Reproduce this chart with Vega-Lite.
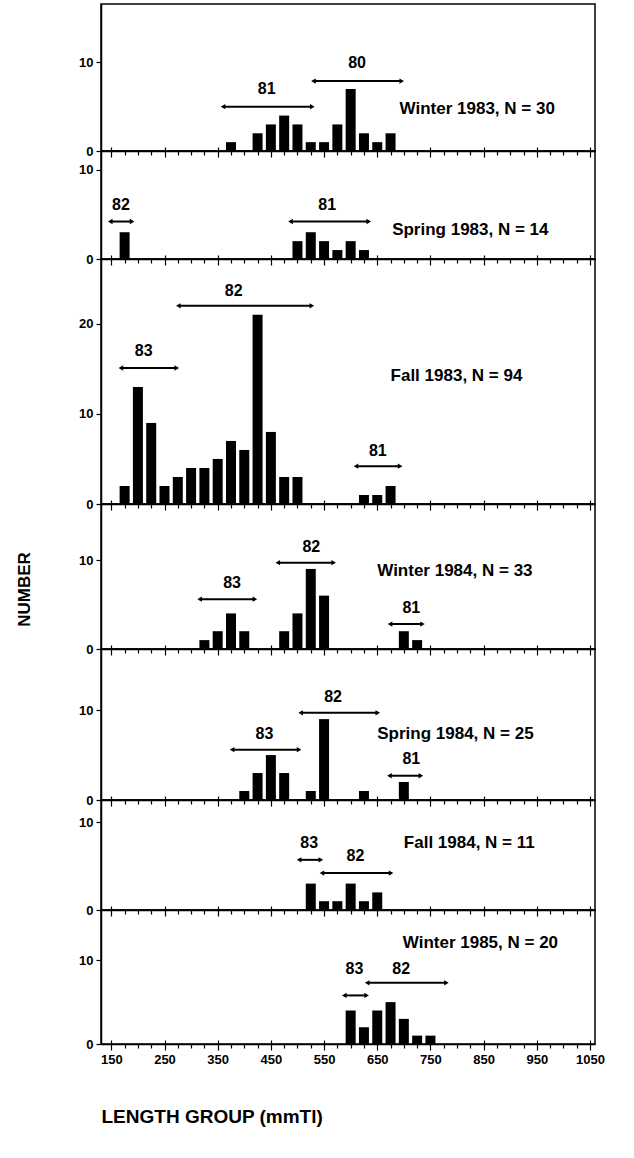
{
  "$schema": "https://vega.github.io/schema/vega-lite/v6.json",
  "padding": {"left": 14, "top": 3, "right": 10, "bottom": 5},
  "background": "white",
  "datasets": {
    "bars": [
      {"p": 1, "len": 375, "n": 1}, {"p": 1, "len": 425, "n": 2}, {"p": 1, "len": 450, "n": 3}, {"p": 1, "len": 475, "n": 4},
      {"p": 1, "len": 500, "n": 3}, {"p": 1, "len": 525, "n": 1}, {"p": 1, "len": 550, "n": 1}, {"p": 1, "len": 575, "n": 3},
      {"p": 1, "len": 600, "n": 7}, {"p": 1, "len": 625, "n": 2}, {"p": 1, "len": 650, "n": 1}, {"p": 1, "len": 675, "n": 2},
      {"p": 2, "len": 175, "n": 3}, {"p": 2, "len": 500, "n": 2}, {"p": 2, "len": 525, "n": 3}, {"p": 2, "len": 550, "n": 2},
      {"p": 2, "len": 575, "n": 1}, {"p": 2, "len": 600, "n": 2}, {"p": 2, "len": 625, "n": 1},
      {"p": 3, "len": 175, "n": 2}, {"p": 3, "len": 200, "n": 13}, {"p": 3, "len": 225, "n": 9}, {"p": 3, "len": 250, "n": 2},
      {"p": 3, "len": 275, "n": 3}, {"p": 3, "len": 300, "n": 4}, {"p": 3, "len": 325, "n": 4}, {"p": 3, "len": 350, "n": 5},
      {"p": 3, "len": 375, "n": 7}, {"p": 3, "len": 400, "n": 6}, {"p": 3, "len": 425, "n": 21}, {"p": 3, "len": 450, "n": 8},
      {"p": 3, "len": 475, "n": 3}, {"p": 3, "len": 500, "n": 3}, {"p": 3, "len": 625, "n": 1}, {"p": 3, "len": 650, "n": 1},
      {"p": 3, "len": 675, "n": 2},
      {"p": 4, "len": 325, "n": 1}, {"p": 4, "len": 350, "n": 2}, {"p": 4, "len": 375, "n": 4}, {"p": 4, "len": 400, "n": 2},
      {"p": 4, "len": 475, "n": 2}, {"p": 4, "len": 500, "n": 4}, {"p": 4, "len": 525, "n": 9}, {"p": 4, "len": 550, "n": 6},
      {"p": 4, "len": 700, "n": 2}, {"p": 4, "len": 725, "n": 1},
      {"p": 5, "len": 400, "n": 1}, {"p": 5, "len": 425, "n": 3}, {"p": 5, "len": 450, "n": 5}, {"p": 5, "len": 475, "n": 3},
      {"p": 5, "len": 525, "n": 1}, {"p": 5, "len": 550, "n": 9}, {"p": 5, "len": 625, "n": 1}, {"p": 5, "len": 700, "n": 2},
      {"p": 6, "len": 525, "n": 3}, {"p": 6, "len": 550, "n": 1}, {"p": 6, "len": 575, "n": 1}, {"p": 6, "len": 600, "n": 3},
      {"p": 6, "len": 625, "n": 1}, {"p": 6, "len": 650, "n": 2},
      {"p": 7, "len": 600, "n": 4}, {"p": 7, "len": 625, "n": 2}, {"p": 7, "len": 650, "n": 4}, {"p": 7, "len": 675, "n": 5},
      {"p": 7, "len": 700, "n": 3}, {"p": 7, "len": 725, "n": 1}, {"p": 7, "len": 750, "n": 1}
    ],
    "arrows": [
      {"p": 1, "x1": 360, "x2": 528, "y": 5.0, "lab": "81", "lx": 442, "ly": 7.0},
      {"p": 1, "x1": 530, "x2": 696, "y": 7.9, "lab": "80", "lx": 612, "ly": 9.9},
      {"p": 2, "x1": 148, "x2": 189, "y": 4.2, "lab": "82", "lx": 168, "ly": 6.0},
      {"p": 2, "x1": 487, "x2": 634, "y": 4.2, "lab": "81", "lx": 556, "ly": 6.0},
      {"p": 3, "x1": 168, "x2": 273, "y": 15.1, "lab": "83", "lx": 211, "ly": 17.0},
      {"p": 3, "x1": 276, "x2": 527, "y": 22.0, "lab": "82", "lx": 380, "ly": 23.7},
      {"p": 3, "x1": 610, "x2": 693, "y": 4.2, "lab": "81", "lx": 651, "ly": 5.9},
      {"p": 4, "x1": 316, "x2": 420, "y": 5.6, "lab": "83", "lx": 377, "ly": 7.4},
      {"p": 4, "x1": 463, "x2": 568, "y": 9.7, "lab": "82", "lx": 526, "ly": 11.5},
      {"p": 4, "x1": 674, "x2": 735, "y": 2.8, "lab": "81", "lx": 714, "ly": 4.6},
      {"p": 5, "x1": 377, "x2": 503, "y": 5.6, "lab": "83", "lx": 438, "ly": 7.3},
      {"p": 5, "x1": 506, "x2": 651, "y": 9.7, "lab": "82", "lx": 567, "ly": 11.5},
      {"p": 5, "x1": 673, "x2": 732, "y": 2.7, "lab": "81", "lx": 714, "ly": 4.6},
      {"p": 6, "x1": 503, "x2": 544, "y": 5.7, "lab": "83", "lx": 522, "ly": 7.6},
      {"p": 6, "x1": 546, "x2": 676, "y": 4.2, "lab": "82", "lx": 609, "ly": 6.1},
      {"p": 7, "x1": 588, "x2": 630, "y": 5.8, "lab": "83", "lx": 607, "ly": 9.0},
      {"p": 7, "x1": 631, "x2": 780, "y": 7.3, "lab": "82", "lx": 695, "ly": 9.0}
    ],
    "notes": [
      {"p": 1, "txt": "Winter 1983, N = 30", "x": 692, "y": 4.75},
      {"p": 2, "txt": "Spring 1983, N = 14", "x": 678, "y": 3.2},
      {"p": 3, "txt": "Fall 1983, N = 94", "x": 675, "y": 14.2},
      {"p": 4, "txt": "Winter 1984, N = 33", "x": 650, "y": 8.8},
      {"p": 5, "txt": "Spring 1984, N = 25", "x": 650, "y": 7.3},
      {"p": 6, "txt": "Fall 1984, N = 11", "x": 700, "y": 7.6},
      {"p": 7, "txt": "Winter 1985, N = 20", "x": 698, "y": 12.1}
    ]
  },
  "vconcat": [
    {
      "width": 494, "height": 147,
      "layer": [
        {"data": {"name": "bars"}, "transform": [{"filter": "datum.p == 1"}], "mark": {"type": "bar", "size": 10, "color": "black"},
         "encoding": {"x": {"field": "len", "type": "quantitative", "scale": {"domain": [140, 1050], "nice": false, "zero": false}, "axis": {"orient": "bottom", "values": [150,175,200,225,250,275,300,325,350,375,400,425,450,475,500,525,550,575,600,625,650,675,700,725,750,775,800,825,850,875,900,925,950,975,1000,1025,1050], "tickSize": {"expr": "datum.value % 100 == 50 ? 6 : 4"}, "labels": false, "title": null}},
                      "y": {"field": "n", "type": "quantitative", "scale": {"domain": [0, 16.6], "nice": false}, "axis": {"orient": "left", "values": [0, 10], "title": null}}}},
        {"data": {"name": "arrows"}, "transform": [{"filter": "datum.p == 1"}], "mark": {"type": "rule", "strokeWidth": 2, "color": "black"},
         "encoding": {"x": {"field": "x1", "type": "quantitative", "scale": {"domain": [140, 1050], "nice": false, "zero": false}, "axis": {"orient": "bottom", "values": [150,250,350,450,550,650,750,850,950,1050], "tickSize": -4, "labels": false, "domain": false, "title": null}},
                      "x2": {"field": "x2"}, "y": {"field": "y", "type": "quantitative", "scale": {"domain": [0, 16.6], "nice": false}, "axis": null}}},
        {"data": {"name": "arrows"}, "transform": [{"filter": "datum.p == 1"}], "mark": {"type": "point", "shape": "triangle-left", "filled": true, "size": 28, "color": "black", "opacity": 1},
         "encoding": {"x": {"field": "x1", "type": "quantitative", "axis": null}, "y": {"field": "y", "type": "quantitative", "axis": null}}},
        {"data": {"name": "arrows"}, "transform": [{"filter": "datum.p == 1"}], "mark": {"type": "point", "shape": "triangle-right", "filled": true, "size": 28, "color": "black", "opacity": 1},
         "encoding": {"x": {"field": "x2", "type": "quantitative", "axis": null}, "y": {"field": "y", "type": "quantitative", "axis": null}}},
        {"data": {"name": "arrows"}, "transform": [{"filter": "datum.p == 1"}], "mark": {"type": "text", "fontSize": 16, "fontWeight": "bold", "baseline": "middle"},
         "encoding": {"x": {"field": "lx", "type": "quantitative", "axis": null}, "y": {"field": "ly", "type": "quantitative", "axis": null}, "text": {"field": "lab"}}},
        {"data": {"name": "notes"}, "transform": [{"filter": "datum.p == 1"}], "mark": {"type": "text", "fontSize": 17, "fontWeight": "bold", "align": "left", "baseline": "middle"},
         "encoding": {"x": {"field": "x", "type": "quantitative", "axis": null}, "y": {"field": "y", "type": "quantitative", "axis": null}, "text": {"field": "txt"}}}
      ],
      "resolve": {"axis": {"x": "independent", "y": "independent"}}
    },
    {
      "width": 494, "height": 108,
      "layer": [
        {"data": {"name": "bars"}, "transform": [{"filter": "datum.p == 2"}], "mark": {"type": "bar", "size": 10, "color": "black"},
         "encoding": {"x": {"field": "len", "type": "quantitative", "scale": {"domain": [140, 1050], "nice": false, "zero": false}, "axis": {"orient": "bottom", "values": [150,175,200,225,250,275,300,325,350,375,400,425,450,475,500,525,550,575,600,625,650,675,700,725,750,775,800,825,850,875,900,925,950,975,1000,1025,1050], "tickSize": {"expr": "datum.value % 100 == 50 ? 6 : 4"}, "labels": false, "title": null}},
                      "y": {"field": "n", "type": "quantitative", "scale": {"domain": [0, 12.1], "nice": false}, "axis": {"orient": "left", "values": [0, 10], "title": null}}}},
        {"data": {"name": "arrows"}, "transform": [{"filter": "datum.p == 2"}], "mark": {"type": "rule", "strokeWidth": 2, "color": "black"},
         "encoding": {"x": {"field": "x1", "type": "quantitative", "scale": {"domain": [140, 1050], "nice": false, "zero": false}, "axis": {"orient": "bottom", "values": [150,250,350,450,550,650,750,850,950,1050], "tickSize": -4, "labels": false, "domain": false, "title": null}},
                      "x2": {"field": "x2"}, "y": {"field": "y", "type": "quantitative", "scale": {"domain": [0, 12.1], "nice": false}, "axis": null}}},
        {"data": {"name": "arrows"}, "transform": [{"filter": "datum.p == 2"}], "mark": {"type": "point", "shape": "triangle-left", "filled": true, "size": 28, "color": "black", "opacity": 1},
         "encoding": {"x": {"field": "x1", "type": "quantitative", "axis": null}, "y": {"field": "y", "type": "quantitative", "axis": null}}},
        {"data": {"name": "arrows"}, "transform": [{"filter": "datum.p == 2"}], "mark": {"type": "point", "shape": "triangle-right", "filled": true, "size": 28, "color": "black", "opacity": 1},
         "encoding": {"x": {"field": "x2", "type": "quantitative", "axis": null}, "y": {"field": "y", "type": "quantitative", "axis": null}}},
        {"data": {"name": "arrows"}, "transform": [{"filter": "datum.p == 2"}], "mark": {"type": "text", "fontSize": 16, "fontWeight": "bold", "baseline": "middle"},
         "encoding": {"x": {"field": "lx", "type": "quantitative", "axis": null}, "y": {"field": "ly", "type": "quantitative", "axis": null}, "text": {"field": "lab"}}},
        {"data": {"name": "notes"}, "transform": [{"filter": "datum.p == 2"}], "mark": {"type": "text", "fontSize": 17, "fontWeight": "bold", "align": "left", "baseline": "middle"},
         "encoding": {"x": {"field": "x", "type": "quantitative", "axis": null}, "y": {"field": "y", "type": "quantitative", "axis": null}, "text": {"field": "txt"}}}
      ],
      "resolve": {"axis": {"x": "independent", "y": "independent"}}
    },
    {
      "width": 494, "height": 245,
      "layer": [
        {"data": {"name": "bars"}, "transform": [{"filter": "datum.p == 3"}], "mark": {"type": "bar", "size": 10, "color": "black"},
         "encoding": {"x": {"field": "len", "type": "quantitative", "scale": {"domain": [140, 1050], "nice": false, "zero": false}, "axis": {"orient": "bottom", "values": [150,175,200,225,250,275,300,325,350,375,400,425,450,475,500,525,550,575,600,625,650,675,700,725,750,775,800,825,850,875,900,925,950,975,1000,1025,1050], "tickSize": {"expr": "datum.value % 100 == 50 ? 6 : 4"}, "labels": false, "title": null}},
                      "y": {"field": "n", "type": "quantitative", "scale": {"domain": [0, 27.2], "nice": false}, "axis": {"orient": "left", "values": [0, 10, 20], "title": null}}}},
        {"data": {"name": "arrows"}, "transform": [{"filter": "datum.p == 3"}], "mark": {"type": "rule", "strokeWidth": 2, "color": "black"},
         "encoding": {"x": {"field": "x1", "type": "quantitative", "scale": {"domain": [140, 1050], "nice": false, "zero": false}, "axis": {"orient": "bottom", "values": [150,250,350,450,550,650,750,850,950,1050], "tickSize": -4, "labels": false, "domain": false, "title": null}},
                      "x2": {"field": "x2"}, "y": {"field": "y", "type": "quantitative", "scale": {"domain": [0, 27.2], "nice": false}, "axis": null}}},
        {"data": {"name": "arrows"}, "transform": [{"filter": "datum.p == 3"}], "mark": {"type": "point", "shape": "triangle-left", "filled": true, "size": 28, "color": "black", "opacity": 1},
         "encoding": {"x": {"field": "x1", "type": "quantitative", "axis": null}, "y": {"field": "y", "type": "quantitative", "axis": null}}},
        {"data": {"name": "arrows"}, "transform": [{"filter": "datum.p == 3"}], "mark": {"type": "point", "shape": "triangle-right", "filled": true, "size": 28, "color": "black", "opacity": 1},
         "encoding": {"x": {"field": "x2", "type": "quantitative", "axis": null}, "y": {"field": "y", "type": "quantitative", "axis": null}}},
        {"data": {"name": "arrows"}, "transform": [{"filter": "datum.p == 3"}], "mark": {"type": "text", "fontSize": 16, "fontWeight": "bold", "baseline": "middle"},
         "encoding": {"x": {"field": "lx", "type": "quantitative", "axis": null}, "y": {"field": "ly", "type": "quantitative", "axis": null}, "text": {"field": "lab"}}},
        {"data": {"name": "notes"}, "transform": [{"filter": "datum.p == 3"}], "mark": {"type": "text", "fontSize": 17, "fontWeight": "bold", "align": "left", "baseline": "middle"},
         "encoding": {"x": {"field": "x", "type": "quantitative", "axis": null}, "y": {"field": "y", "type": "quantitative", "axis": null}, "text": {"field": "txt"}}}
      ],
      "resolve": {"axis": {"x": "independent", "y": "independent"}}
    },
    {
      "width": 494, "height": 145,
      "layer": [
        {"data": {"name": "bars"}, "transform": [{"filter": "datum.p == 4"}], "mark": {"type": "bar", "size": 10, "color": "black"},
         "encoding": {"x": {"field": "len", "type": "quantitative", "scale": {"domain": [140, 1050], "nice": false, "zero": false}, "axis": {"orient": "bottom", "values": [150,175,200,225,250,275,300,325,350,375,400,425,450,475,500,525,550,575,600,625,650,675,700,725,750,775,800,825,850,875,900,925,950,975,1000,1025,1050], "tickSize": {"expr": "datum.value % 100 == 50 ? 6 : 4"}, "labels": false, "title": null}},
                      "y": {"field": "n", "type": "quantitative", "scale": {"domain": [0, 16.3], "nice": false}, "axis": {"orient": "left", "values": [0, 10], "title": "NUMBER", "titleFontSize": 17, "titleFontWeight": "bold", "titlePadding": 45, "titleY": 85}}}},
        {"data": {"name": "arrows"}, "transform": [{"filter": "datum.p == 4"}], "mark": {"type": "rule", "strokeWidth": 2, "color": "black"},
         "encoding": {"x": {"field": "x1", "type": "quantitative", "scale": {"domain": [140, 1050], "nice": false, "zero": false}, "axis": {"orient": "bottom", "values": [150,250,350,450,550,650,750,850,950,1050], "tickSize": -4, "labels": false, "domain": false, "title": null}},
                      "x2": {"field": "x2"}, "y": {"field": "y", "type": "quantitative", "scale": {"domain": [0, 16.3], "nice": false}, "axis": null}}},
        {"data": {"name": "arrows"}, "transform": [{"filter": "datum.p == 4"}], "mark": {"type": "point", "shape": "triangle-left", "filled": true, "size": 28, "color": "black", "opacity": 1},
         "encoding": {"x": {"field": "x1", "type": "quantitative", "axis": null}, "y": {"field": "y", "type": "quantitative", "axis": null}}},
        {"data": {"name": "arrows"}, "transform": [{"filter": "datum.p == 4"}], "mark": {"type": "point", "shape": "triangle-right", "filled": true, "size": 28, "color": "black", "opacity": 1},
         "encoding": {"x": {"field": "x2", "type": "quantitative", "axis": null}, "y": {"field": "y", "type": "quantitative", "axis": null}}},
        {"data": {"name": "arrows"}, "transform": [{"filter": "datum.p == 4"}], "mark": {"type": "text", "fontSize": 16, "fontWeight": "bold", "baseline": "middle"},
         "encoding": {"x": {"field": "lx", "type": "quantitative", "axis": null}, "y": {"field": "ly", "type": "quantitative", "axis": null}, "text": {"field": "lab"}}},
        {"data": {"name": "notes"}, "transform": [{"filter": "datum.p == 4"}], "mark": {"type": "text", "fontSize": 17, "fontWeight": "bold", "align": "left", "baseline": "middle"},
         "encoding": {"x": {"field": "x", "type": "quantitative", "axis": null}, "y": {"field": "y", "type": "quantitative", "axis": null}, "text": {"field": "txt"}}}
      ],
      "resolve": {"axis": {"x": "independent", "y": "independent"}}
    },
    {
      "width": 494, "height": 151,
      "layer": [
        {"data": {"name": "bars"}, "transform": [{"filter": "datum.p == 5"}], "mark": {"type": "bar", "size": 10, "color": "black"},
         "encoding": {"x": {"field": "len", "type": "quantitative", "scale": {"domain": [140, 1050], "nice": false, "zero": false}, "axis": {"orient": "bottom", "values": [150,175,200,225,250,275,300,325,350,375,400,425,450,475,500,525,550,575,600,625,650,675,700,725,750,775,800,825,850,875,900,925,950,975,1000,1025,1050], "tickSize": {"expr": "datum.value % 100 == 50 ? 6 : 4"}, "labels": false, "title": null}},
                      "y": {"field": "n", "type": "quantitative", "scale": {"domain": [0, 16.8], "nice": false}, "axis": {"orient": "left", "values": [0, 10], "title": null}}}},
        {"data": {"name": "arrows"}, "transform": [{"filter": "datum.p == 5"}], "mark": {"type": "rule", "strokeWidth": 2, "color": "black"},
         "encoding": {"x": {"field": "x1", "type": "quantitative", "scale": {"domain": [140, 1050], "nice": false, "zero": false}, "axis": {"orient": "bottom", "values": [150,250,350,450,550,650,750,850,950,1050], "tickSize": -4, "labels": false, "domain": false, "title": null}},
                      "x2": {"field": "x2"}, "y": {"field": "y", "type": "quantitative", "scale": {"domain": [0, 16.8], "nice": false}, "axis": null}}},
        {"data": {"name": "arrows"}, "transform": [{"filter": "datum.p == 5"}], "mark": {"type": "point", "shape": "triangle-left", "filled": true, "size": 28, "color": "black", "opacity": 1},
         "encoding": {"x": {"field": "x1", "type": "quantitative", "axis": null}, "y": {"field": "y", "type": "quantitative", "axis": null}}},
        {"data": {"name": "arrows"}, "transform": [{"filter": "datum.p == 5"}], "mark": {"type": "point", "shape": "triangle-right", "filled": true, "size": 28, "color": "black", "opacity": 1},
         "encoding": {"x": {"field": "x2", "type": "quantitative", "axis": null}, "y": {"field": "y", "type": "quantitative", "axis": null}}},
        {"data": {"name": "arrows"}, "transform": [{"filter": "datum.p == 5"}], "mark": {"type": "text", "fontSize": 16, "fontWeight": "bold", "baseline": "middle"},
         "encoding": {"x": {"field": "lx", "type": "quantitative", "axis": null}, "y": {"field": "ly", "type": "quantitative", "axis": null}, "text": {"field": "lab"}}},
        {"data": {"name": "notes"}, "transform": [{"filter": "datum.p == 5"}], "mark": {"type": "text", "fontSize": 17, "fontWeight": "bold", "align": "left", "baseline": "middle"},
         "encoding": {"x": {"field": "x", "type": "quantitative", "axis": null}, "y": {"field": "y", "type": "quantitative", "axis": null}, "text": {"field": "txt"}}}
      ],
      "resolve": {"axis": {"x": "independent", "y": "independent"}}
    },
    {
      "width": 494, "height": 110,
      "layer": [
        {"data": {"name": "bars"}, "transform": [{"filter": "datum.p == 6"}], "mark": {"type": "bar", "size": 10, "color": "black"},
         "encoding": {"x": {"field": "len", "type": "quantitative", "scale": {"domain": [140, 1050], "nice": false, "zero": false}, "axis": {"orient": "bottom", "values": [150,175,200,225,250,275,300,325,350,375,400,425,450,475,500,525,550,575,600,625,650,675,700,725,750,775,800,825,850,875,900,925,950,975,1000,1025,1050], "tickSize": {"expr": "datum.value % 100 == 50 ? 6 : 4"}, "labels": false, "title": null}},
                      "y": {"field": "n", "type": "quantitative", "scale": {"domain": [0, 12.5], "nice": false}, "axis": {"orient": "left", "values": [0, 10], "title": null}}}},
        {"data": {"name": "arrows"}, "transform": [{"filter": "datum.p == 6"}], "mark": {"type": "rule", "strokeWidth": 2, "color": "black"},
         "encoding": {"x": {"field": "x1", "type": "quantitative", "scale": {"domain": [140, 1050], "nice": false, "zero": false}, "axis": {"orient": "bottom", "values": [150,250,350,450,550,650,750,850,950,1050], "tickSize": -4, "labels": false, "domain": false, "title": null}},
                      "x2": {"field": "x2"}, "y": {"field": "y", "type": "quantitative", "scale": {"domain": [0, 12.5], "nice": false}, "axis": null}}},
        {"data": {"name": "arrows"}, "transform": [{"filter": "datum.p == 6"}], "mark": {"type": "point", "shape": "triangle-left", "filled": true, "size": 28, "color": "black", "opacity": 1},
         "encoding": {"x": {"field": "x1", "type": "quantitative", "axis": null}, "y": {"field": "y", "type": "quantitative", "axis": null}}},
        {"data": {"name": "arrows"}, "transform": [{"filter": "datum.p == 6"}], "mark": {"type": "point", "shape": "triangle-right", "filled": true, "size": 28, "color": "black", "opacity": 1},
         "encoding": {"x": {"field": "x2", "type": "quantitative", "axis": null}, "y": {"field": "y", "type": "quantitative", "axis": null}}},
        {"data": {"name": "arrows"}, "transform": [{"filter": "datum.p == 6"}], "mark": {"type": "text", "fontSize": 16, "fontWeight": "bold", "baseline": "middle"},
         "encoding": {"x": {"field": "lx", "type": "quantitative", "axis": null}, "y": {"field": "ly", "type": "quantitative", "axis": null}, "text": {"field": "lab"}}},
        {"data": {"name": "notes"}, "transform": [{"filter": "datum.p == 6"}], "mark": {"type": "text", "fontSize": 17, "fontWeight": "bold", "align": "left", "baseline": "middle"},
         "encoding": {"x": {"field": "x", "type": "quantitative", "axis": null}, "y": {"field": "y", "type": "quantitative", "axis": null}, "text": {"field": "txt"}}}
      ],
      "resolve": {"axis": {"x": "independent", "y": "independent"}}
    },
    {
      "width": 494, "height": 134,
      "layer": [
        {"data": {"name": "bars"}, "transform": [{"filter": "datum.p == 7"}], "mark": {"type": "bar", "size": 10, "color": "black"},
         "encoding": {"x": {"field": "len", "type": "quantitative", "scale": {"domain": [140, 1050], "nice": false, "zero": false}, "axis": {"orient": "bottom", "values": [150,175,200,225,250,275,300,325,350,375,400,425,450,475,500,525,550,575,600,625,650,675,700,725,750,775,800,825,850,875,900,925,950,975,1000,1025,1050], "tickSize": {"expr": "datum.value % 100 == 50 ? 6 : 4"}, "labels": true, "format": "d", "labelExpr": "datum.value % 100 == 50 ? datum.label : ''", "labelOverlap": false, "labelFlush": false, "labelFontSize": 13, "labelFontWeight": "bold", "labelPadding": 3, "title": "LENGTH GROUP (mmTl)", "titleFontSize": 19, "titleFontWeight": "bold", "titleAnchor": "start", "titleAlign": "left", "titlePadding": 41}},
                      "y": {"field": "n", "type": "quantitative", "scale": {"domain": [0, 16], "nice": false}, "axis": {"orient": "left", "values": [0, 10], "title": null}}}},
        {"data": {"name": "arrows"}, "transform": [{"filter": "datum.p == 7"}], "mark": {"type": "rule", "strokeWidth": 2, "color": "black"},
         "encoding": {"x": {"field": "x1", "type": "quantitative", "scale": {"domain": [140, 1050], "nice": false, "zero": false}, "axis": {"orient": "bottom", "values": [150,250,350,450,550,650,750,850,950,1050], "tickSize": -4, "labels": false, "domain": false, "title": null}},
                      "x2": {"field": "x2"}, "y": {"field": "y", "type": "quantitative", "scale": {"domain": [0, 16], "nice": false}, "axis": null}}},
        {"data": {"name": "arrows"}, "transform": [{"filter": "datum.p == 7"}], "mark": {"type": "point", "shape": "triangle-left", "filled": true, "size": 28, "color": "black", "opacity": 1},
         "encoding": {"x": {"field": "x1", "type": "quantitative", "axis": null}, "y": {"field": "y", "type": "quantitative", "axis": null}}},
        {"data": {"name": "arrows"}, "transform": [{"filter": "datum.p == 7"}], "mark": {"type": "point", "shape": "triangle-right", "filled": true, "size": 28, "color": "black", "opacity": 1},
         "encoding": {"x": {"field": "x2", "type": "quantitative", "axis": null}, "y": {"field": "y", "type": "quantitative", "axis": null}}},
        {"data": {"name": "arrows"}, "transform": [{"filter": "datum.p == 7"}], "mark": {"type": "text", "fontSize": 16, "fontWeight": "bold", "baseline": "middle"},
         "encoding": {"x": {"field": "lx", "type": "quantitative", "axis": null}, "y": {"field": "ly", "type": "quantitative", "axis": null}, "text": {"field": "lab"}}},
        {"data": {"name": "notes"}, "transform": [{"filter": "datum.p == 7"}], "mark": {"type": "text", "fontSize": 17, "fontWeight": "bold", "align": "left", "baseline": "middle"},
         "encoding": {"x": {"field": "x", "type": "quantitative", "axis": null}, "y": {"field": "y", "type": "quantitative", "axis": null}, "text": {"field": "txt"}}}
      ],
      "resolve": {"axis": {"x": "independent", "y": "independent"}}
    }
  ],
  "spacing": 0,
  "bounds": "flush",
  "config": {
    "font": "Liberation Sans",
    "view": {"stroke": "black", "strokeWidth": 1.5},
    "axis": {"grid": false, "domainColor": "black", "domainWidth": 1.5, "tickColor": "black", "tickWidth": 1.2, "labelColor": "black", "titleColor": "black", "labelFontSize": 13, "labelFontWeight": "bold", "labelFont": "Liberation Sans", "titleFont": "Liberation Sans"},
    "axisY": {"tickSize": 5, "labelPadding": 3},
    "text": {"color": "black", "font": "Liberation Sans"}
  }
}
